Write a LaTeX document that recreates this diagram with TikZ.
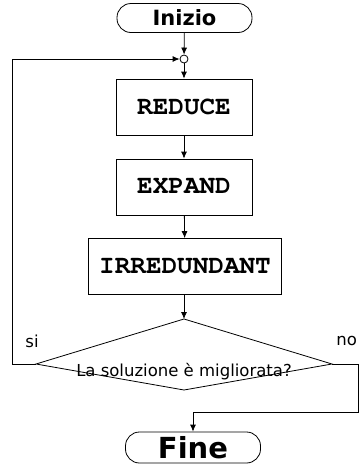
\documentclass[tikz,border=0pt]{standalone}
\usepackage[T1,TU]{fontenc}
\usepackage{fontspec}
\setmainfont{DejaVu Sans}
\usetikzlibrary{arrows.meta,positioning}

\newcommand{\courbf}{\fontencoding{T1}\fontfamily{pcr}\fontseries{b}\selectfont}

\begin{document}
\begin{tikzpicture}[->,>={Latex[length=7pt,width=6pt]},x=1pt,y=-1pt,line width=0.8pt,
    term/.style={draw,rounded corners=14pt,minimum width=135pt,minimum height=29pt,inner sep=0pt,font=\bfseries},
    proc/.style={draw,minimum height=56pt,inner sep=0pt,font=\fontsize{26}{26}\courbf},
    lbl/.style={font=\fontsize{16.5}{16.5}\selectfont,inner sep=0pt}]
  \useasboundingbox (0,0) rectangle (362,464);
  \node[term] (start) at (184.5,18) {\fontsize{21}{21}\selectfont Inizio};
  \node[draw,circle,inner sep=0pt,minimum size=8pt] (join) at (184,59) {};
  \node[proc,minimum width=136pt] (reduce) at (184,107) {REDUCE};
  \node[proc,minimum width=136pt] (expand) at (184,187) {EXPAND};
  \node[proc,minimum width=193pt] (irred) at (185,266.5) {IRREDUNDANT};
  % decision
  \coordinate (dtop) at (184,319);
  \coordinate (dleft) at (36,364);
  \coordinate (dright) at (332,364);
  \coordinate (dbot) at (184,390);
  \draw[-] (dtop) -- (dright) -- (dbot) -- (dleft) -- cycle;
  \node[lbl] (test) at (184,372) {La soluzione è migliorata?};
  \node[lbl] (si) at (32,341) {si};
  \node[lbl,anchor=west] (no) at (336,341) {no};
  \node[term,minimum height=31pt] (stop) at (193,447.5) {\fontsize{29}{29}\selectfont Fine};
  \coordinate (lback) at (12,364);
  \coordinate (rside) at (358,364);
  \coordinate (rdown) at (358,412);
  \draw (start) -- (join);
  \draw (join) -- (reduce);
  \draw (reduce) -- (expand);
  \draw (expand) -- (irred);
  \draw (irred.south -| dtop) -- (dtop);
  \draw (dleft) -- (lback) |- (join);
  \draw (dright) -- (rside) -- (rdown) -| (stop);
\end{tikzpicture}
\end{document}
